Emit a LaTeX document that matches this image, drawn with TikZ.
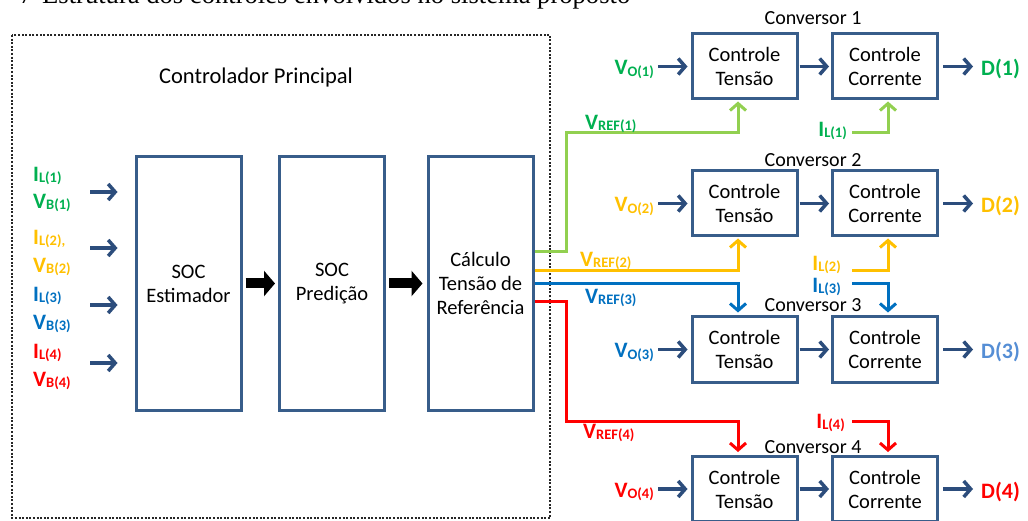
\documentclass[tikz,border=0pt]{standalone}
\usepackage{fontspec}
\setmainfont{Carlito}
\newfontfamily\capfont{Liberation Serif}
\usetikzlibrary{arrows.meta}
\definecolor{bordblue}{HTML}{385D8A}
\definecolor{arrblue}{HTML}{2C4D7C}
\definecolor{cgreen}{HTML}{00B050}
\definecolor{lgreen}{HTML}{92D050}
\definecolor{cyellow}{HTML}{FFC000}
\definecolor{cblue}{HTML}{0070C0}
\definecolor{cred}{HTML}{FF0000}
\definecolor{csteel}{HTML}{558ED5}
\newcommand{\sg}[2]{\textbf{#1}\raisebox{-1.5pt}{\fontsize{14.5}{14.5}\selectfont\bfseries #2}}
\tikzset{
  blk/.style={draw=bordblue, line width=3pt, fill=white, inner sep=0pt, align=center,
    minimum width=105pt},
  cbox/.style={blk, minimum height=65pt},
  bigbox/.style={blk, minimum height=253pt},
  darr/.style={draw=arrblue, line width=3.5pt, -{Straight Barb[length=7pt,width=16pt]}},
  carr/.style={line width=3pt, -{Straight Barb[length=7pt,width=16pt]}},
  bigarr/.style={line width=10pt, -{Triangle[length=11pt,width=25pt]}},
  lab/.style={font=\fontsize{22}{22}\selectfont\bfseries, inner sep=0pt},
  ttl/.style={font=\fontsize{20}{24}\selectfont, inner sep=0pt},
}
\begin{document}
\begin{tikzpicture}[x=1pt,y=-1pt, font=\fontsize{20.5}{24}\selectfont]
\useasboundingbox (0,0) rectangle (1028,521);
\clip (0,0) rectangle (1028,521);
\fill[white] (0,0) rectangle (1028,521);

% caption fragment
\node[anchor=base, inner sep=0pt, font=\capfont\fontsize{26.6}{26.6}\selectfont] (capn) at (26,4) {7};
\node[anchor=base west, inner sep=0pt, font=\capfont\fontsize{26.6}{26.6}\selectfont] (cap) at (42,4) {Estrutura dos controles envolvidos no sistema proposto};

% main controller frame
\draw[line width=2pt, dash pattern=on 2pt off 1.6pt, black!85] (12,35) rectangle (550,518);
\node[ttl, font=\fontsize{22.5}{24}\selectfont] (mainttl) at (256,78) {Controlador Principal};

% main blocks
\node[bigbox] (est) at (188.5,283.5) {SOC\\Estimador};
\node[bigbox] (pred) at (332,283.5) {SOC\\Predição};
\node[bigbox] (calc) at (480.5,283.5) {Cálculo\\Tensão de\\Referência};

\draw[bigarr, shorten <=3pt, shorten >=3pt] (est.east) -- (pred.west);
\draw[bigarr, shorten <=3pt, shorten >=4pt] (pred.east) -- (calc.west);

% left inputs
\node[lab, anchor=west, text=cgreen] (il1) at (33,176) {\sg{I}{L(1)}};
\node[lab, anchor=west, text=cgreen] (vb1) at (33,203) {\sg{V}{B(1)}};
\node[lab, anchor=west, text=cyellow] (il2) at (33,239) {\sg{I}{L(2),}};
\node[lab, anchor=west, text=cyellow] (vb2) at (33,267) {\sg{V}{B(2)}};
\node[lab, anchor=west, text=cblue] (il3) at (33,296) {\sg{I}{L(3)}};
\node[lab, anchor=west, text=cblue] (vb3) at (33,324) {\sg{V}{B(3)}};
\node[lab, anchor=west, text=cred] (il4) at (33,353) {\sg{I}{L(4)}};
\node[lab, anchor=west, text=cred] (vb4) at (33,381) {\sg{V}{B(4)}};
\coordinate (a1) at (90,192);
\coordinate (a2) at (90,248);
\coordinate (a3) at (90,305);
\coordinate (a4) at (90,363);
\foreach \a in {a1,a2,a3,a4}{
  \draw[darr, shorten >=17pt] (\a) -- (est.west |- \a);
}

% converters
\foreach \i/\y/\c/\dc in {1/66.5/cgreen/cgreen, 2/203.5/cyellow/cyellow, 3/349.5/cblue/csteel, 4/489/cred/cred}{
  \node[cbox] (t\i) at (744.5,\y) {Controle\\Tensão};
  \node[cbox] (c\i) at (885,\y) {Controle\\Corrente};
  \node[lab, anchor=east, text=\c] (vo\i) at (654,\y+3) {\sg{V}{O(\i)}};
  \node[lab, anchor=west, text=\dc] (d\i) at (981,\y+3) {D(\i)};
  \draw[darr, shorten <=4pt, shorten >=3pt] (vo\i.east |- t\i.west) -- (t\i.west);
  \draw[darr, shorten <=1pt, shorten >=2pt] (t\i.east) -- (c\i.west);
  \draw[darr, shorten <=4pt, shorten >=8pt] (c\i.east) -- (d\i.west |- c\i.east);
}
\node[ttl] (cv1) at (813,18) {Conversor 1};
\node[ttl] (cv2) at (813,160) {Conversor 2};
\node[ttl] (cv3) at (813,305) {Conversor 3};
\node[ttl] (cv4) at (813,447) {Conversor 4};

% reference lines
\coordinate (xv) at (738,0);
\coordinate (xi) at (888,0);
\coordinate (y1) at (0,252);
\coordinate (y2) at (0,271);
\coordinate (y3) at (0,284);
\coordinate (y4) at (0,302);

\draw[carr, lgreen, shorten >=1pt] (calc.east |- y1) -- (566,252) -- (566,133) -- (738,133) -- (xv |- t1.south);
\node[lab, anchor=west, text=cgreen] (vr1) at (585,124) {\sg{V}{REF(1)}};
\draw[carr, cyellow, shorten >=1pt] (calc.east |- y2) -- (738,271) -- (xv |- t2.south);
\node[lab, anchor=west, text=cyellow] (vr2) at (580,261) {\sg{V}{REF(2)}};
\draw[carr, cblue, shorten >=3pt] (calc.east |- y3) -- (738,284) -- (xv |- t3.north);
\node[lab, anchor=west, text=cblue] (vr3) at (585,298) {\sg{V}{REF(3)}};
\draw[carr, cred, shorten >=3pt] (calc.east |- y4) -- (566,302) -- (566,421) -- (738,421) -- (xv |- t4.north);
\node[lab, anchor=west, text=cred] (vr4) at (583,433) {\sg{V}{REF(4)}};

% inductor current feedbacks
\node[lab, anchor=east, text=cgreen] (ic1) at (847,131) {\sg{I}{L(1)}};
\draw[carr, lgreen, shorten >=1pt] (852,133) -- (888,133) -- (xi |- c1.south);
\node[lab, anchor=east, text=cyellow] (ic2) at (841,265) {\sg{I}{L(2)}};
\draw[carr, cyellow, shorten >=1pt] (852,271) -- (888,271) -- (xi |- c2.south);
\node[lab, anchor=east, text=cblue] (ic3) at (841,287) {\sg{I}{L(3)}};
\draw[carr, cblue, shorten >=3pt] (852,284) -- (888,284) -- (xi |- c3.north);
\node[lab, anchor=east, text=cred] (ic4) at (845,423) {\sg{I}{L(4)}};
\draw[carr, cred, shorten >=3pt] (852,421) -- (888,421) -- (xi |- c4.north);
\end{tikzpicture}
\end{document}
